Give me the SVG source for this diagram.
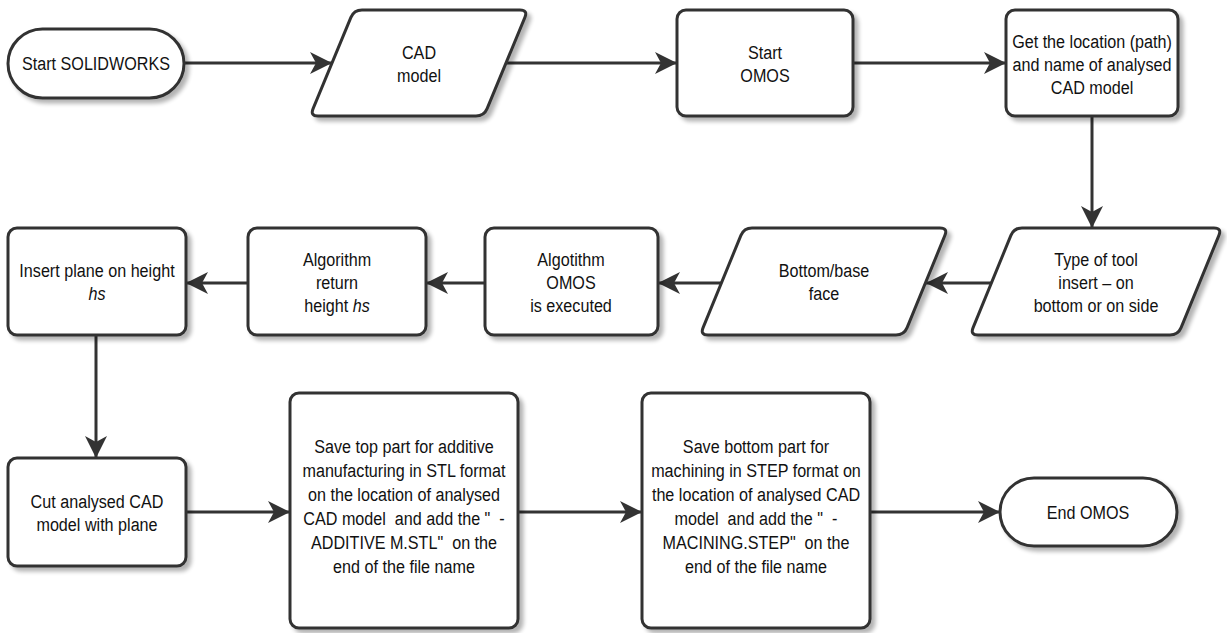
<svg xmlns="http://www.w3.org/2000/svg" width="1227" height="633" viewBox="0 0 1227 633">
<style>
.n{fill:#fff;stroke:#333;stroke-width:3;filter:url(#sh)}
.t{font-family:"Liberation Sans",Arial,sans-serif;font-size:19px;fill:#111;text-anchor:middle}
.c{stroke:#333;stroke-width:3;fill:none;marker-end:url(#ah)}
</style>
<defs>
<filter id="sh" x="-10%" y="-10%" width="130%" height="130%">
<feGaussianBlur in="SourceAlpha" stdDeviation="2"/>
<feOffset dx="4" dy="4" result="b"/>
<feComponentTransfer><feFuncA type="linear" slope="0.3"/></feComponentTransfer>
<feMerge><feMergeNode/><feMergeNode in="SourceGraphic"/></feMerge>
</filter>
<marker id="ah" markerUnits="userSpaceOnUse" markerWidth="24" markerHeight="24" refX="22" refY="11" orient="auto">
<path d="M0,0 L22,11 L0,22 L6,11 Z" fill="#333"/>
</marker>
</defs>
<g id="connectors">
<path class="c" d="M184,63 H332"/>
<path class="c" d="M507,63 H677"/>
<path class="c" d="M853,63 H1006"/>
<path class="c" d="M1092,116 V228"/>
<path class="c" d="M992,283 H926"/>
<path class="c" d="M722,283 H658"/>
<path class="c" d="M485,283 H426"/>
<path class="c" d="M248,283 H186"/>
<path class="c" d="M96,335 V458"/>
<path class="c" d="M186,512 H290"/>
<path class="c" d="M518,512 H642"/>
<path class="c" d="M870,512 H1000"/>
</g>
<g id="start">
<rect class="n" x="8" y="29" width="176" height="69" rx="34.5"/>
<g transform="translate(96 0) scale(0.85 1)"><text class="t" x="0" y="70">Start SOLIDWORKS</text></g>
</g>
<g id="cad">
<path class="n" d="M362,10 H520 Q528,10 524.9,17.4 L487.1,108.6 Q484,116 476,116 H318 Q310,116 313.1,108.6 L350.9,17.4 Q354,10 362,10 Z"/>
<g transform="translate(419 0) scale(0.85 1)">
<text class="t" x="0" y="59">CAD</text>
<text class="t" x="0" y="82">model</text>
</g>
</g>
<g id="startomos">
<rect class="n" x="677" y="10" width="176" height="106" rx="9"/>
<g transform="translate(765 0) scale(0.85 1)">
<text class="t" x="0" y="59">Start</text>
<text class="t" x="0" y="82">OMOS</text>
</g>
</g>
<g id="getloc">
<rect class="n" x="1006" y="10" width="172" height="106" rx="9"/>
<g transform="translate(1092 0) scale(0.85 1)">
<text class="t" x="0" y="48">Get the location (path)</text>
<text class="t" x="0" y="71">and name of analysed</text>
<text class="t" x="0" y="94">CAD model</text>
</g>
</g>
<g id="tooltype">
<path class="n" d="M1022,228 H1214 Q1222,228 1218.9,235.4 L1181.1,327.6 Q1178,335 1170,335 H978 Q970,335 973.1,327.6 L1010.9,235.4 Q1014,228 1022,228 Z"/>
<g transform="translate(1096 0) scale(0.85 1)">
<text class="t" x="0" y="266">Type of tool</text>
<text class="t" x="0" y="289">insert – on</text>
<text class="t" x="0" y="312">bottom or on side</text>
</g>
</g>
<g id="bottomface">
<path class="n" d="M752,228 H940 Q948,228 944.9,235.4 L907.1,327.6 Q904,335 896,335 H708 Q700,335 703.1,327.6 L740.9,235.4 Q744,228 752,228 Z"/>
<g transform="translate(824 0) scale(0.85 1)">
<text class="t" x="0" y="277">Bottom/base</text>
<text class="t" x="0" y="300">face</text>
</g>
</g>
<g id="algexec">
<rect class="n" x="485" y="228" width="173" height="107" rx="9"/>
<g transform="translate(571 0) scale(0.85 1)">
<text class="t" x="0" y="266">Algotithm</text>
<text class="t" x="0" y="289">OMOS</text>
<text class="t" x="0" y="312">is executed</text>
</g>
</g>
<g id="algreturn">
<rect class="n" x="248" y="228" width="178" height="107" rx="9"/>
<g transform="translate(337 0) scale(0.85 1)">
<text class="t" x="0" y="266">Algorithm</text>
<text class="t" x="0" y="289">return</text>
<text class="t" x="0" y="312">height <tspan font-style="italic">hs</tspan></text>
</g>
</g>
<g id="insertplane">
<rect class="n" x="8" y="228" width="178" height="107" rx="9"/>
<g transform="translate(97 0) scale(0.85 1)">
<text class="t" x="0" y="277">Insert plane on height</text>
<text class="t" x="0" y="300" font-style="italic">hs</text>
</g>
</g>
<g id="cut">
<rect class="n" x="8" y="458" width="178" height="108" rx="9"/>
<g transform="translate(97 0) scale(0.85 1)">
<text class="t" x="0" y="508">Cut analysed CAD</text>
<text class="t" x="0" y="531">model with plane</text>
</g>
</g>
<g id="savetop">
<rect class="n" x="290" y="393" width="228" height="235" rx="9"/>
<g transform="translate(404 0) scale(0.85 1)">
<text class="t" x="0" y="453">Save top part for additive</text>
<text class="t" x="0" y="477">manufacturing in STL format</text>
<text class="t" x="0" y="501">on the location of analysed</text>
<text class="t" x="0" y="525" xml:space="preserve">CAD model  and add the "  -</text>
<text class="t" x="0" y="549" xml:space="preserve">ADDITIVE M.STL"  on the</text>
<text class="t" x="0" y="573">end of the file name</text>
</g>
</g>
<g id="savebottom">
<rect class="n" x="642" y="393" width="228" height="235" rx="9"/>
<g transform="translate(756 0) scale(0.85 1)">
<text class="t" x="0" y="453">Save bottom part for</text>
<text class="t" x="0" y="477">machining in STEP format on</text>
<text class="t" x="0" y="501">the location of analysed CAD</text>
<text class="t" x="0" y="525" xml:space="preserve">model  and add the "  -</text>
<text class="t" x="0" y="549" xml:space="preserve">MACINING.STEP"  on the</text>
<text class="t" x="0" y="573">end of the file name</text>
</g>
</g>
<g id="end">
<rect class="n" x="1000" y="478" width="177" height="68" rx="34"/>
<g transform="translate(1088 0) scale(0.85 1)"><text class="t" x="0" y="519">End OMOS</text></g>
</g>
</svg>
